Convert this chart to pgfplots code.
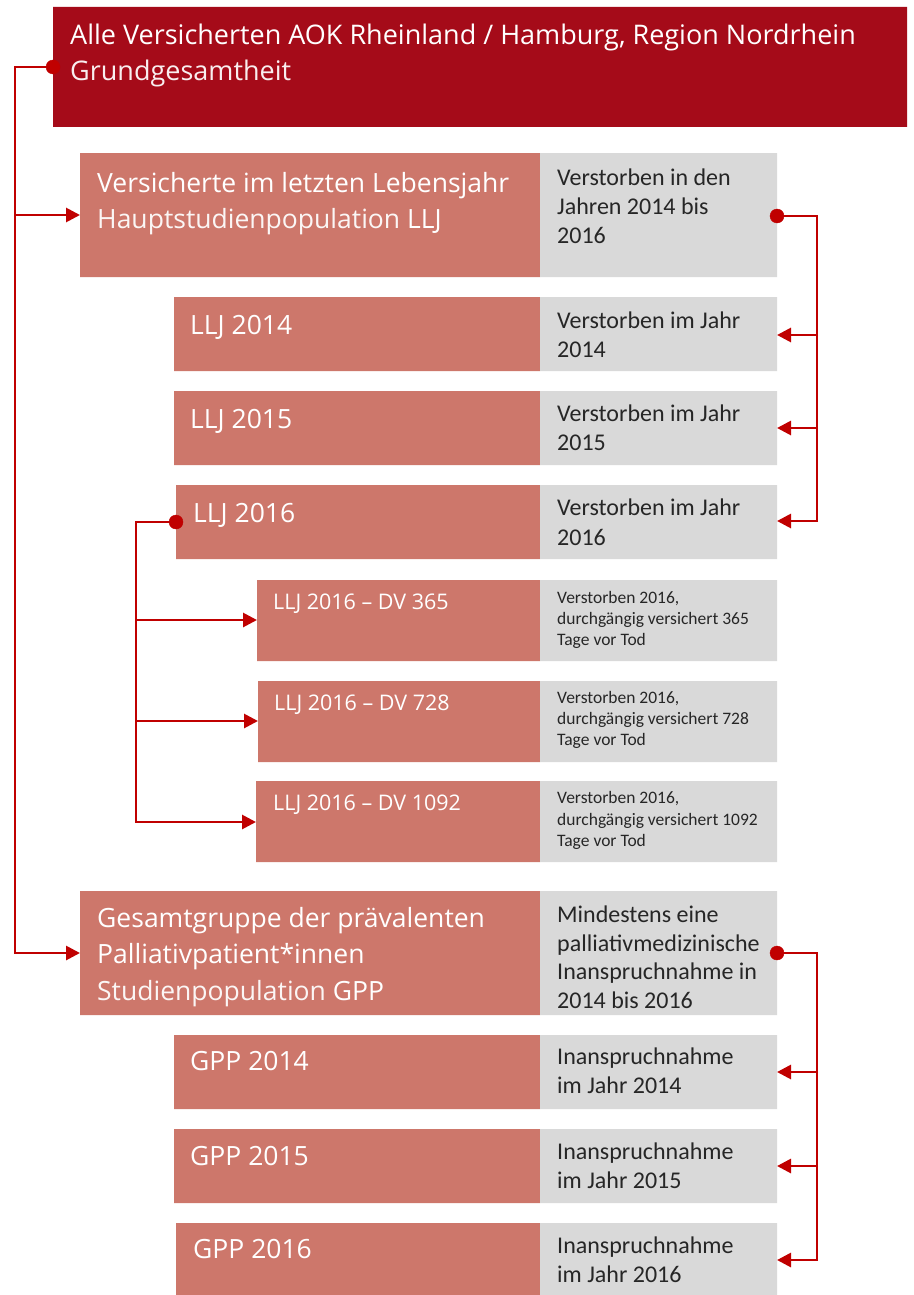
\documentclass[border=0pt]{standalone}
\usepackage{pgfplots}
\pgfplotsset{compat=1.18}
\usetikzlibrary{arrows.meta}
\usepackage{fontspec}
\setmainfont{Open Sans}
\newfontfamily\calfont{Carlito}
\definecolor{darkred}{HTML}{A50B19}
\definecolor{salmon}{HTML}{CD776B}
\definecolor{lgray}{HTML}{D9D9D9}
\definecolor{conn}{HTML}{C00000}
\definecolor{dtext}{HTML}{262626}
\newcommand{\rect}[5]{\addplot[fill=#5, draw=none, forget plot] coordinates {(#1,#2) (#3,#2) (#3,#4) (#1,#4) (#1,#2)};}
\newcommand{\txt}[5]{\node[anchor=base west, inner sep=0pt, text=#3] at (axis cs:#1,#2) {\fontsize{#4}{#4}\selectfont #5};}
\newcommand{\gtxt}[3]{\node[anchor=base west, inner sep=0pt, text=dtext] at (axis cs:557,#1) {\calfont\fontsize{#2}{#2}\selectfont #3};}
\newcommand{\arr}[4]{\addplot[conn, line width=2.8pt, -{Triangle[length=14pt,width=14pt]}, forget plot] coordinates {(#1,#2) (#3,#4)};}
\newcommand{\rdot}[2]{\addplot[only marks, mark=*, mark size=7pt, color=conn, forget plot] coordinates {(#1,#2)};}
\begin{document}
\begin{tikzpicture}
\begin{axis}[width=913pt, height=1295pt, scale only axis, xmin=0, xmax=913, ymin=0, ymax=1295, y dir=reverse, axis lines=none, ticks=none, clip=false]
\addplot[draw=none, forget plot] coordinates {(0,0) (913,1295)};
% top box
\rect{53}{7}{907}{127}{darkred}
\txt{70}{45}{white}{27}{Alle Versicherten AOK Rheinland / Hamburg, Region Nordrhein}
\txt{70}{81}{white!93!darkred}{27}{Grundgesamtheit}
% LLJ main
\rect{80}{153}{540}{277}{salmon}
\rect{540}{153}{777}{277}{lgray}
\txt{97}{192}{white}{26.5}{Versicherte im letzten Lebensjahr}
\txt{97}{228}{white!93!salmon}{26.5}{Hauptstudienpopulation \textcolor{white}{LLJ}}
\gtxt{185}{24}{Verstorben in den}
\gtxt{214}{24}{Jahren 2014 bis}
\gtxt{243}{24}{2016}
% LLJ 2014
\rect{174}{297}{540}{371}{salmon}
\rect{540}{297}{777}{371}{lgray}
\txt{190}{334}{white}{26.5}{LLJ 2014}
\gtxt{328}{24}{Verstorben im Jahr}
\gtxt{357}{24}{2014}
% LLJ 2015
\rect{174}{391}{540}{465}{salmon}
\rect{540}{391}{777}{465}{lgray}
\txt{190}{428}{white}{26.5}{LLJ 2015}
\gtxt{421}{24}{Verstorben im Jahr}
\gtxt{450}{24}{2015}
% LLJ 2016
\rect{176}{485}{540}{559}{salmon}
\rect{540}{485}{777}{559}{lgray}
\txt{193}{522}{white}{26.5}{LLJ 2016}
\gtxt{515}{24}{Verstorben im Jahr}
\gtxt{545}{24}{2016}
% DV 365
\rect{257}{580}{540}{661}{salmon}
\rect{540}{580}{777}{661}{lgray}
\txt{273}{609}{white}{21.5}{LLJ 2016 -- DV 365}
\gtxt{603}{17.5}{Verstorben 2016,}
\gtxt{624}{17.5}{durchgängig versichert 365}
\gtxt{645}{17.5}{Tage vor Tod}
% DV 728
\rect{258}{681}{540}{762}{salmon}
\rect{540}{681}{777}{762}{lgray}
\txt{274}{710}{white}{21.5}{LLJ 2016 -- DV 728}
\gtxt{703}{17.5}{Verstorben 2016,}
\gtxt{724}{17.5}{durchgängig versichert 728}
\gtxt{745}{17.5}{Tage vor Tod}
% DV 1092
\rect{256}{781}{540}{862}{salmon}
\rect{540}{781}{777}{862}{lgray}
\txt{273}{810}{white}{21.5}{LLJ 2016 -- DV 1092}
\gtxt{803}{17.5}{Verstorben 2016,}
\gtxt{825}{17.5}{durchgängig versichert 1092}
\gtxt{846}{17.5}{Tage vor Tod}
% GPP main
\rect{80}{891}{540}{1015}{salmon}
\rect{540}{891}{777}{1015}{lgray}
\txt{97}{927}{white}{26.5}{Gesamtgruppe der prävalenten}
\txt{97}{963}{white}{26.5}{Palliativpatient*innen}
\txt{97}{1000}{white!93!salmon}{26.5}{Studienpopulation \textcolor{white}{GPP}}
\gtxt{922}{24}{Mindestens eine}
\gtxt{951}{24}{palliativmedizinische}
\gtxt{979}{24}{Inanspruchnahme in}
\gtxt{1008}{24}{2014 bis 2016}
% GPP 2014
\rect{174}{1035}{540}{1109}{salmon}
\rect{540}{1035}{777}{1109}{lgray}
\txt{190}{1070}{white}{26.5}{GPP 2014}
\gtxt{1064}{24}{Inanspruchnahme}
\gtxt{1093}{24}{im Jahr 2014}
% GPP 2015
\rect{174}{1129}{540}{1203}{salmon}
\rect{540}{1129}{777}{1203}{lgray}
\txt{190}{1165}{white}{26.5}{GPP 2015}
\gtxt{1159}{24}{Inanspruchnahme}
\gtxt{1188}{24}{im Jahr 2015}
% GPP 2016
\rect{176}{1223}{540}{1295}{salmon}
\rect{540}{1223}{777}{1295}{lgray}
\txt{193}{1258}{white}{26.5}{GPP 2016}
\gtxt{1253}{24}{Inanspruchnahme}
\gtxt{1282}{24}{im Jahr 2016}
% connectors: main left
\addplot[conn, line width=2.8pt, forget plot] coordinates {(53,67) (15,67) (15,953)};
\arr{14}{215}{80}{215}
\arr{14}{953}{80}{953}
\rdot{53}{67}
% LLJ right
\addplot[conn, line width=2.8pt, forget plot] coordinates {(777,216) (817,216) (817,521)};
\arr{818}{335}{777}{335}
\arr{818}{428}{777}{428}
\arr{818}{521}{777}{521}
\rdot{777}{216}
% LLJ 2016 left
\addplot[conn, line width=2.8pt, forget plot] coordinates {(176,522) (136,522) (136,822)};
\arr{135}{620}{257}{620}
\arr{135}{721}{258}{721}
\arr{135}{822}{256}{822}
\rdot{176}{522}
% GPP right
\addplot[conn, line width=2.8pt, forget plot] coordinates {(777,953) (817,953) (817,1260)};
\arr{818}{1072}{777}{1072}
\arr{818}{1166}{777}{1166}
\arr{818}{1260}{777}{1260}
\rdot{777}{953}
\end{axis}
\end{tikzpicture}
\end{document}
